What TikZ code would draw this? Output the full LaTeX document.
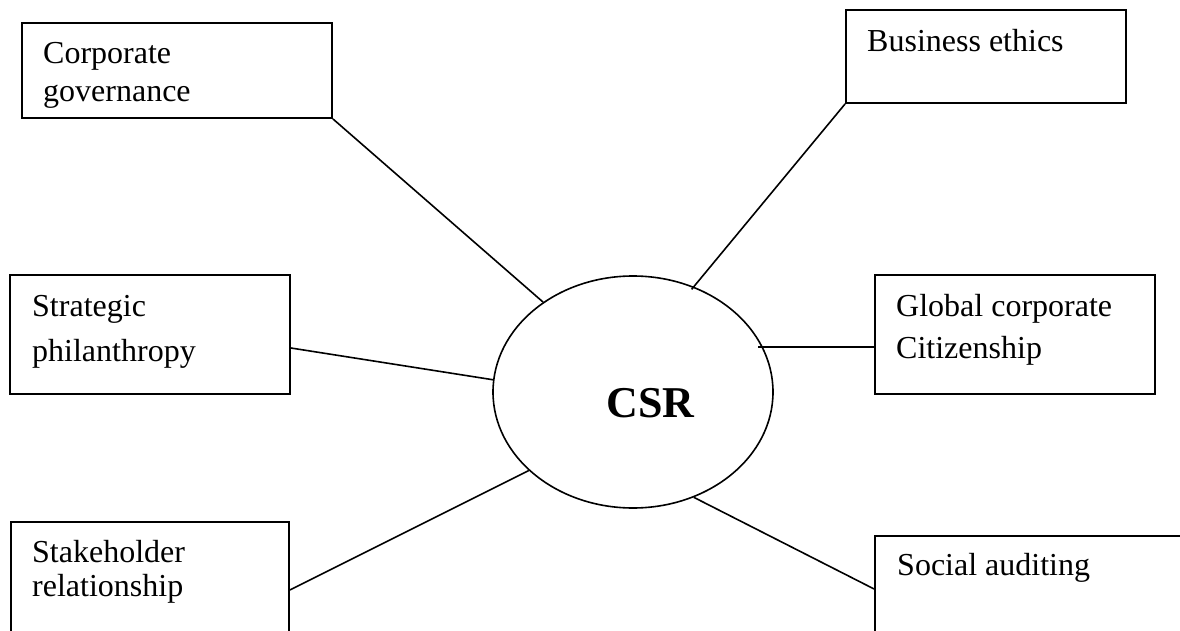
\documentclass[tikz,border=0pt]{standalone}
\usepackage{fontspec}
\setmainfont{Liberation Serif}
\usetikzlibrary{shapes.geometric}
\begin{document}
\begin{tikzpicture}[x=1pt,y=-1pt,
  box/.style={draw,line width=1.8pt,rectangle,inner sep=0pt},
  lbl/.style={anchor=base west,inner sep=0pt,font=\fontsize{32}{38}\selectfont},
  conn/.style={draw,line width=1.6pt}]
\clip (0,0) rectangle (1180,631);
\fill[white] (0,0) rectangle (1180,631);
% boxes
\node[box,minimum width=310pt,minimum height=95pt] (cg) at (177,70.5) {};
\node[box,minimum width=280pt,minimum height=93pt] (be) at (986,56.5) {};
\node[box,minimum width=280pt,minimum height=119pt] (sp) at (150,334.5) {};
\node[box,minimum width=280pt,minimum height=119pt] (gc) at (1015,334.5) {};
\node[box,minimum width=278pt,minimum height=119pt] (sr) at (150,581.5) {};
\node[box,minimum width=320pt,minimum height=119pt] (sa) at (1035,595.5) {};
% centre ellipse
\node[draw,line width=1.6pt,ellipse,minimum width=280pt,minimum height=232pt,inner sep=0pt] (csr) at (633,392) {};
\node[anchor=base,inner sep=0pt,font=\fontsize{44}{50}\selectfont\bfseries] (csrt) at (650.5,417) {CSR};
% labels
\node[lbl] (cg1) at (43,64) {Corporate};
\node[lbl] (cg2) at (43,102) {governance};
\node[lbl] (be1) at (867,52) {Business ethics};
\node[lbl] (sp1) at (32,316) {Strategic};
\node[lbl] (sp2) at (32,361) {philanthropy};
\node[lbl] (gc1) at (896,316) {Global corporate};
\node[lbl] (gc2) at (896,358) {Citizenship};
\node[lbl] (sr1) at (32,562) {Stakeholder};
\node[lbl] (sr2) at (32,596) {relationship};
\node[lbl] (sa1) at (897,575) {Social auditing};
% connectors
\coordinate (spo) at ([yshift=-13.5pt]sp.east);
\coordinate (gci) at ([yshift=-12.5pt]gc.west);
\coordinate (sro) at ([yshift=-8.5pt]sr.east);
\coordinate (sai) at ([yshift=6.5pt]sa.west);
\draw[conn] (cg.south east) -- (csr.135);
\draw[conn,shorten >=-3.5pt] (be.south west) -- (csr.60);
\draw[conn] (spo) -- (csr.175);
\draw[conn] (gci) -- (gci -| csr.23);
\draw[conn] (sro) -- (csr.217);
\draw[conn] (csr.-60) -- (sai);
\end{tikzpicture}
\end{document}
